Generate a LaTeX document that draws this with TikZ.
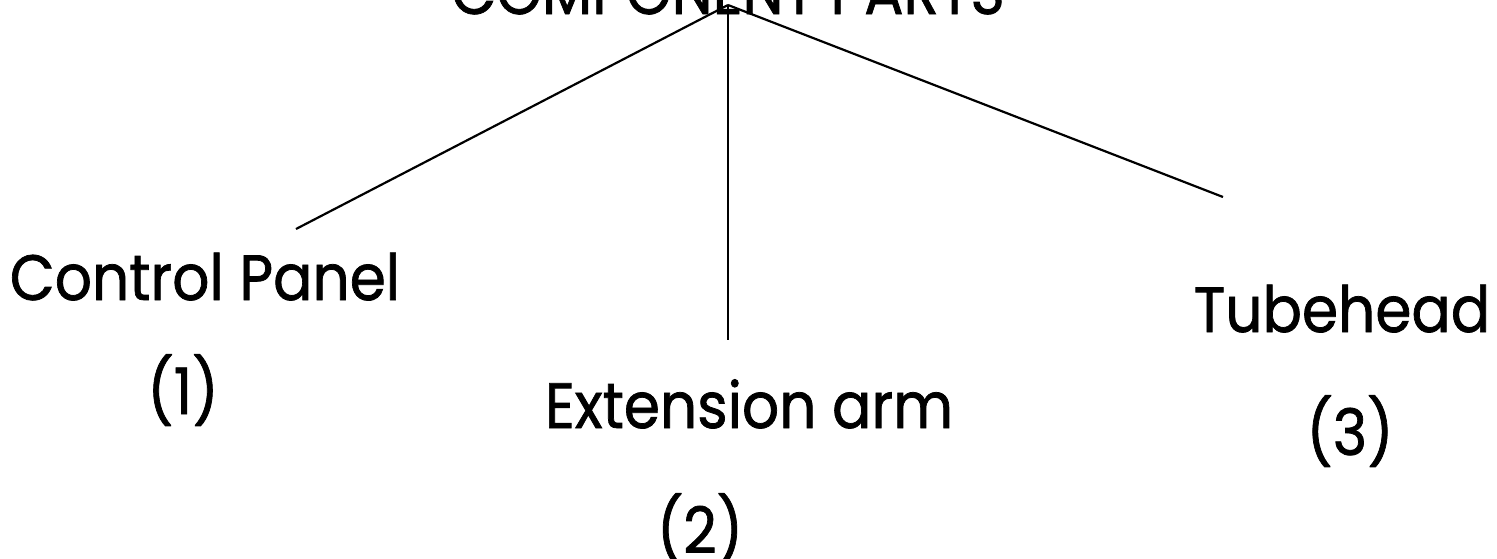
\documentclass[tikz,border=0pt]{standalone}
\usepackage{fontspec}
\setmainfont{Poppins}[FakeBold=1.2,AutoFakeBold=1.2]
\newcommand{\narrowtext}[1]{\scalebox{0.91}[1]{\bfseries #1}}
\begin{document}
\begin{tikzpicture}[x=1pt,y=-1pt,
  label/.style={inner sep=0pt, anchor=base, font=\fontsize{64}{72}\selectfont},
  branch/.style={line width=2.2pt, black}]
\useasboundingbox (0,0) rectangle (1497,558);
% heading, mostly above the top edge
\node[label] (title) at (728,14) {\narrowtext{COMPONENT PARTS}};
\coordinate (apex) at (728,5);
% the three parts
\node[label] (panel) at (205,300) {\narrowtext{Control Panel}};
\node[label] (n1) at (183,414) {\narrowtext{(1)}};
\node[label] (arm) at (749,428) {\narrowtext{Extension arm}};
\node[label] (n2) at (700,553) {\narrowtext{(2)}};
\node[label] (tube) at (1342,332) {\narrowtext{Tubehead}};
\node[label] (n3) at (1350,455) {\narrowtext{(3)}};
% branch ends
\coordinate (panelend) at (296,229);
\coordinate (armend) at (728,340);
\coordinate (tubeend) at (1223,197);
\draw[branch] (apex) -- (panelend);
\draw[branch] (apex) -- (armend);
\draw[branch] (apex) -- (tubeend);
\end{tikzpicture}
\end{document}
